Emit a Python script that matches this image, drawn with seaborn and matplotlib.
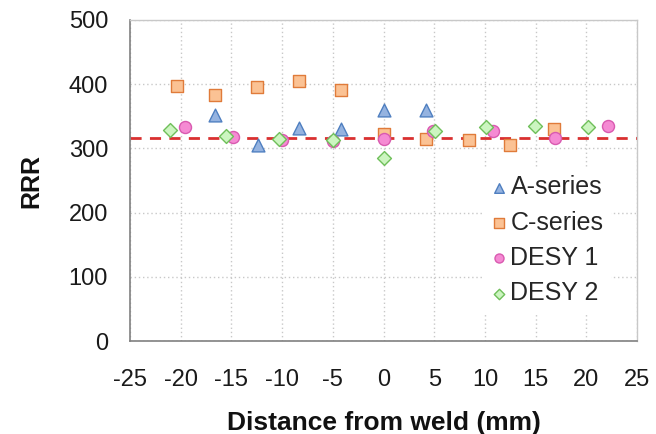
import matplotlib
matplotlib.use("Agg")
import matplotlib.pyplot as plt
import seaborn as sns
import pandas as pd

# ---- data ----
a_x = [-16.6, -12.4, -8.3, -4.2, 0.0, 4.2]
a_y = [352, 305, 332, 330, 360, 360]

c_x = [-20.4, -16.6, -12.5, -8.3, -4.2, 0.0, 4.2, 8.4, 12.5, 16.8]
c_y = [397, 383, 396, 405, 391, 322, 315, 313, 305, 330]

d1_x = [-19.6, -14.8, -10.0, -5.0, 0.0, 4.9, 10.8, 16.9, 22.1]
d1_y = [333, 318, 313, 312, 315, 327, 327, 316, 335]

d2_x = [-21.1, -15.5, -10.3, -5.0, 0.0, 5.1, 10.1, 14.9, 20.2]
d2_y = [329, 319, 315, 313, 285, 327, 333, 335, 333]

mean_rrr = 316

series_names = ["A-series", "C-series", "DESY 1", "DESY 2"]
x_ticks = [-25, -20, -15, -10, -5, 0, 5, 10, 15, 20, 25]
y_ticks = [0, 100, 200, 300, 400, 500]

# ---- styling ----
sns.set_theme(style="white")
plt.rcParams["font.family"] = ["Liberation Sans", "DejaVu Sans"]

styles = {
    "A-series": dict(marker="^", fc="#95B3E0", ec="#4F7FC0"),
    "C-series": dict(marker="s", fc="#FBC294", ec="#E07B3A"),
    "DESY 1": dict(marker="o", fc="#F58AD3", ec="#D95AB0"),
    "DESY 2": dict(marker="D", fc="#CCF5C0", ec="#6FBF5A"),
}
sizes = {"A-series": 85, "C-series": 75, "DESY 1": 75, "DESY 2": 50}

frames = []
for name, xs, ys in zip(series_names, [a_x, c_x, d1_x, d2_x], [a_y, c_y, d1_y, d2_y]):
    frames.append(pd.DataFrame({"x": xs, "y": ys, "series": name}))
df = pd.concat(frames, ignore_index=True)

fig = plt.figure(figsize=(6.56, 4.34), dpi=100)
ax = fig.add_axes([130 / 656, 1 - 341 / 434, (637 - 130) / 656, (341 - 20) / 434])

ax.axhline(mean_rrr, color="#D93030", lw=2, ls=(0, (4, 3)), zorder=2)

for name in series_names:
    st = styles[name]
    sub = df[df["series"] == name]
    sns.scatterplot(data=sub, x="x", y="y", ax=ax, marker=st["marker"],
                    color=st["fc"], edgecolor=st["ec"], linewidth=1.0,
                    s=sizes[name], label=name, zorder=3)

ax.set_xlim(-25, 25)
ax.set_ylim(0, 500)
ax.set_xticks(x_ticks)
ax.set_yticks(y_ticks)
ax.set_xticklabels([str(t) for t in x_ticks])
ax.set_yticklabels([str(t) for t in y_ticks])

ax.grid(True, color="#C8C8C8", ls=(0, (1, 2)), lw=1.0)
ax.set_axisbelow(True)

for side in ["left", "bottom"]:
    ax.spines[side].set_color("#808080")
    ax.spines[side].set_linewidth(1.2)
for side in ["top", "right"]:
    ax.spines[side].set_color("#C8C8C8")
    ax.spines[side].set_linewidth(1.0)

ax.tick_params(axis="both", which="major", direction="out", length=5.8,
               width=1.2, color="#808080", labelsize=17, labelcolor="#1a1a1a")
ax.tick_params(axis="x", pad=14)
ax.tick_params(axis="y", pad=10)

ax.set_xlabel("Distance from weld (mm)", fontsize=19, fontweight="bold",
              labelpad=15, color="#111111")
ax.set_ylabel("RRR", fontsize=18, fontweight="bold", labelpad=18, color="#111111")

leg = ax.legend(loc="upper left", bbox_to_anchor=(483 / 656, 1 - 168 / 434),
                bbox_transform=fig.transFigure, frameon=True, facecolor="white",
                edgecolor="none", framealpha=1.0, fancybox=False,
                fontsize=18, handlelength=0.7, handletextpad=0.1,
                labelspacing=0.45, markerscale=0.75, borderpad=0.3,
                borderaxespad=0)
leg.set_zorder(5)

fig.savefig("out.png", dpi=100)
